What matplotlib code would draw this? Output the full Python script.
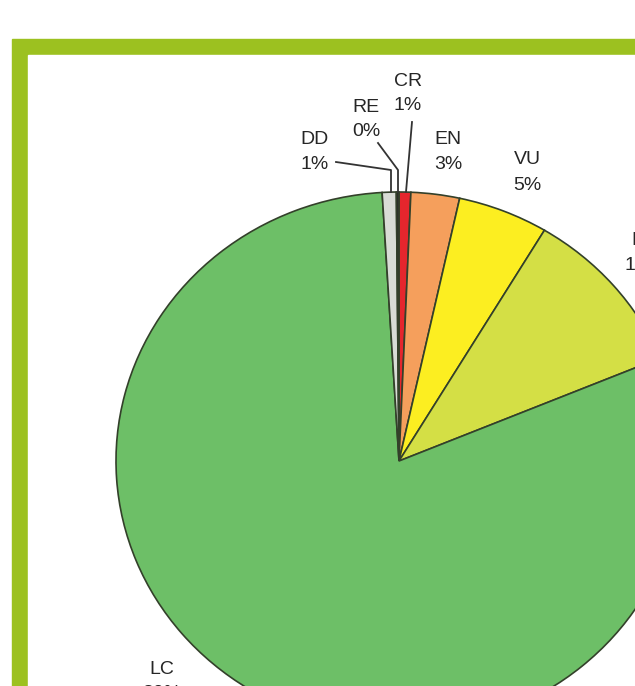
import matplotlib
matplotlib.use("Agg")
import matplotlib.pyplot as plt
from matplotlib.patches import Rectangle

categories = ["CR", "EN", "VU", "NT", "LC", "DD", "RE"]
shares = [0.67, 2.77, 5.15, 10.15, 80.3, 0.8, 0.15]
pct_labels = ["1%", "3%", "5%", "10%", "80%", "1%", "0%"]
colors = ["#e5262d", "#f59f5c", "#fcee21", "#d4df45", "#6dbf67", "#d9dcd6", "#2a2a2a"]

W, H = 635, 686
sy = 269 / 283  # pie looks a bit squashed vertically


def py(y):
    # pixel row -> data y
    return (H - y) / sy


fig = plt.figure(figsize=(W / 100, H / 100), dpi=100)
ax = fig.add_axes([0, 0, 1, 1])

# green frame
ax.add_patch(Rectangle((12, py(800)), 800, py(39) - py(800), color="#9cc120", zorder=0))
ax.add_patch(Rectangle((28, py(800)), 800, py(55) - py(800), color="white", zorder=0.5))

ax.pie(shares, colors=colors, startangle=90, counterclock=False,
       center=(399, py(461)), radius=283, frame=True,
       wedgeprops=dict(edgecolor="#33402a", linewidth=1.2))

ax.set_xlim(0, W)
ax.set_ylim(0, H / sy)
ax.set_aspect("auto")
ax.axis("off")

# label positions (pixel coords): x center, y of name line
label_pos = {
    "CR": (408, 81), "RE": (366, 107), "DD": (315, 139), "EN": (448, 139),
    "VU": (527, 160), "NT": (644, 240), "LC": (162, 669),
}
font = dict(family="Liberation Sans", fontsize=14, color="#262626",
            ha="center", va="center")
for cat, pct in zip(categories, pct_labels):
    x, y = label_pos[cat]
    ax.text(x, py(y), cat, **font)
    ax.text(x, py(y + 25), pct, **font)

# leader lines
leaders = [
    [(412, 122), (406, 192)],
    [(378, 143), (398, 170), (398, 192)],
    [(336, 162), (391, 170), (391, 192)],
]
for pts in leaders:
    ax.plot([p[0] for p in pts], [py(p[1]) for p in pts], color="#333333", lw=1.3, zorder=3)

fig.savefig("out.png", dpi=100)
